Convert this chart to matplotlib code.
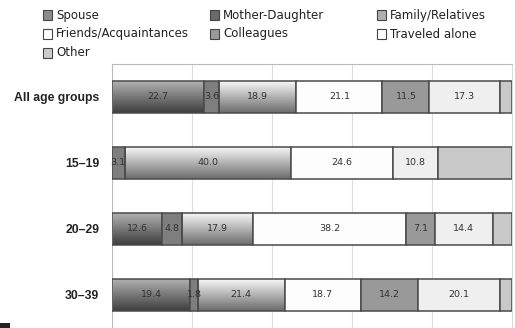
import numpy as np
import matplotlib
matplotlib.use("Agg")
import matplotlib.pyplot as plt
from matplotlib.patches import Rectangle
from matplotlib.colors import LinearSegmentedColormap

plt.rcParams['font.family'] = ['DejaVu Sans']

groups = ["All age groups", "15\u201319", "20\u201329", "30\u201339"]
series = ["Spouse", "Mother-Daughter", "Family/Relatives",
          "Friends/Acquaintances", "Colleagues", "Traveled alone", "Other"]

spouse = [22.7, 0.0, 12.6, 19.4]
mother_daughter = [3.6, 3.1, 4.8, 1.8]
family = [18.9, 40.0, 17.9, 21.4]
friends = [21.1, 24.6, 38.2, 18.7]
colleagues = [11.5, 0.0, 7.1, 14.2]
alone = [17.3, 10.8, 14.4, 20.1]
other = [2.9, 17.8, 4.8, 3.0]

values = [spouse, mother_daughter, family, friends, colleagues, alone, other]
show_label = [True, True, True, True, True, True, False]

fills = [None, "#7e7e7e", None, "#fdfdfd", "#999999", "#efefef", "#c9c9c9"]
gradients = {0: ("#b4b4b4", "#3e3e3e"), 2: ("#fbfbfb", "#6c6c6c")}
legend_fill = ["#8c8c8c", "#6a6a6a", "#b0b0b0", "#ffffff", "#9a9a9a", "#ffffff", "#cccccc"]

W, H = 515, 328
fig = plt.figure(figsize=(W / 100, H / 100), dpi=100)
ax = fig.add_axes([0.217, 0.0, 0.777, 0.805])

data = np.array(values, dtype=float)
totals = data.sum(axis=0)
pct = data / totals * 100

y = np.arange(len(groups))
left = np.zeros(len(groups))
edge = "#4a4a4a"
for i, name in enumerate(series):
    w = pct[i]
    bars = ax.barh(y, w, left=left, height=0.49,
                   color=fills[i] if fills[i] else "none",
                   edgecolor=edge, linewidth=1.1, zorder=3)
    for j, b in enumerate(bars):
        if data[i][j] <= 0:
            b.set_visible(False)
            continue
        if i in gradients:
            top, bot = gradients[i]
            cmap = LinearSegmentedColormap.from_list("g", [top, bot])
            grad = np.linspace(0, 1, 64).reshape(-1, 1)
            x0, y0 = b.get_x(), b.get_y()
            bw, bh = b.get_width(), b.get_height()
            im = ax.imshow(grad, cmap=cmap, aspect="auto",
                           extent=[x0, x0 + bw, y0 + bh, y0], zorder=2.5,
                           interpolation="bicubic")
            im.set_clip_path(b)
        if show_label[i]:
            t = ax.text(b.get_x() + b.get_width() / 2, b.get_y() + b.get_height() / 2,
                        f"{data[i][j]:.1f}", ha="center", va="center",
                        fontsize=6.8, color="#333333", zorder=5)
            t.set_clip_path(b)
    left += w

ax.set_xlim(0, 100)
ax.set_ylim(3.5, -0.5)
ax.set_yticks(y)
ax.set_yticklabels(groups, fontsize=8.8, color="#222222", fontweight="bold",
                   family=["Liberation Sans", "DejaVu Sans"])
ax.tick_params(axis="y", length=0, pad=9)
ax.set_xticks([0, 20, 40, 60, 80, 100])
ax.tick_params(axis="x", length=0, labelbottom=False)
ax.grid(axis="x", color="#dddddd", linewidth=0.8, zorder=0)
ax.spines["bottom"].set_visible(False)
ax.spines["left"].set_color("#bbbbbb")
ax.spines["top"].set_color("#bbbbbb")
ax.spines["right"].set_color("#dddddd")
ax.set_axisbelow(True)

# legend: 3 columns, row-wise
col_x = [43, 210, 377]
row_y = [15, 34, 53]
msize = 9
for k, name in enumerate(series):
    r, c = divmod(k, 3)
    mx, my = col_x[c], row_y[r]
    fig.patches.append(Rectangle(((mx) / W, 1 - (my + msize / 2) / H), msize / W, msize / H,
                                 transform=fig.transFigure, facecolor=legend_fill[k],
                                 edgecolor="#444444", linewidth=0.8))
    fig.text((mx + msize + 4) / W, 1 - my / H, name, fontsize=8.5, color="#222222",
             ha="left", va="center")

fig.patches.append(Rectangle((0, 0), 0.02, 0.016, transform=fig.transFigure,
                             facecolor="#222222", edgecolor="none"))

fig.savefig("out.png", dpi=100)
